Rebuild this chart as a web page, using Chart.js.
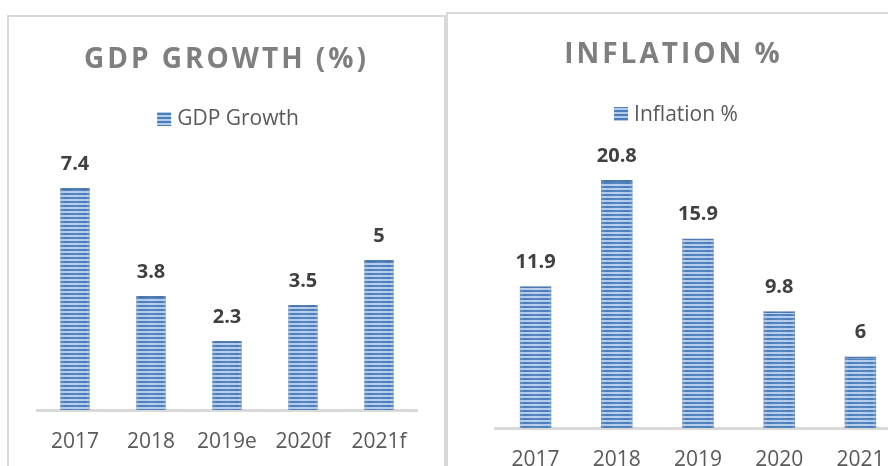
<!DOCTYPE html>
<html>
<head>
<meta charset="utf-8">
<title>GDP Growth and Inflation</title>
<script src="https://cdn.jsdelivr.net/npm/chart.js@4.4.0/dist/chart.umd.min.js"></script>
<style>
  html, body {
    margin: 0;
    padding: 0;
    width: 888px;
    height: 466px;
    overflow: hidden;
    background: #ffffff;
  }
  .panel {
    position: absolute;
    background: #ffffff;
    border-top: 2px solid #d9d9d9;
    border-left: 2px solid #d9d9d9;
  }
  #gdpPanel {
    left: 7px;
    top: 15px;
    border-right: 2px solid #d9d9d9;
  }
  #inflationPanel {
    left: 446px;
    top: 12px;
  }
  canvas { display: block; }
</style>
</head>
<body>
<div class="panel" id="gdpPanel"><canvas id="gdpChart" width="435" height="449"></canvas></div>
<div class="panel" id="inflationPanel"><canvas id="inflationChart" width="460" height="452"></canvas></div>

<script>
// chart data
const gdpYears = ["2017", "2018", "2019e", "2020f", "2021f"];
const gdpValues = [7.4, 3.8, 2.3, 3.5, 5];

const inflationYears = ["2017", "2018", "2019", "2020", "2021"];
const inflationValues = [11.9, 20.8, 15.9, 9.8, 6];

const FONT = "'Open Sans', 'DejaVu Sans', sans-serif";

// striped fill like the Excel pattern bars
function stripePattern() {
  const c = document.createElement("canvas");
  c.width = 4;
  c.height = 4;
  const g = c.getContext("2d");
  g.fillStyle = "#b3cbea";
  g.fillRect(0, 0, 4, 4);
  g.fillStyle = "#4a7dbc";
  g.fillRect(0, 0, 4, 2);
  return g.createPattern(c, "repeat");
}

// title (letter spaced) + single legend item
const headerPlugin = {
  id: "header",
  afterDraw(chart, args, opts) {
    const ctx = chart.ctx;
    ctx.save();

    // title
    ctx.font = "bold 28px " + FONT;
    ctx.letterSpacing = opts.spacing + "px";
    ctx.fillStyle = "#7f7f7f";
    ctx.textAlign = "left";
    ctx.textBaseline = "alphabetic";
    const tw = ctx.measureText(opts.title).width - opts.spacing;
    ctx.fillText(opts.title, opts.titleX - tw / 2, opts.titleY);

    // legend
    ctx.letterSpacing = "0px";
    ctx.font = "21px " + FONT;
    const label = chart.data.datasets[0].label;
    const lw = ctx.measureText(label).width;
    const box = 14;
    const total = box + 6 + lw;
    const lx = opts.legendX - total / 2;
    ctx.fillStyle = chart.data.datasets[0].backgroundColor;
    ctx.fillRect(lx, opts.boxTop, box, box);
    ctx.fillStyle = "#595959";
    ctx.fillText(label, lx + box + 6, opts.legendY);

    ctx.restore();
  },
};

// soft horizontal shading on each bar
const shadePlugin = {
  id: "shade",
  afterDatasetsDraw(chart) {
    const ctx = chart.ctx;
    chart.getDatasetMeta(0).data.forEach((bar) => {
      const { x, y, base, width } = bar.getProps(["x", "y", "base", "width"], true);
      const left = x - width / 2;
      const grad = ctx.createLinearGradient(left, 0, left + width, 0);
      grad.addColorStop(0, "rgba(140,150,165,0.4)");
      grad.addColorStop(0.12, "rgba(255,255,255,0)");
      grad.addColorStop(0.5, "rgba(255,255,255,0.08)");
      grad.addColorStop(0.88, "rgba(255,255,255,0)");
      grad.addColorStop(1, "rgba(140,150,165,0.4)");
      ctx.save();
      ctx.fillStyle = grad;
      ctx.fillRect(left, y, width, base - y);
      ctx.restore();
    });
  },
};

// value labels above bars
const valueLabelPlugin = {
  id: "valueLabels",
  afterDatasetsDraw(chart, args, opts) {
    const ctx = chart.ctx;
    const values = chart.data.datasets[0].data;
    ctx.save();
    ctx.font = "bold 20px " + FONT;
    ctx.fillStyle = "#404040";
    ctx.textAlign = "center";
    ctx.textBaseline = "alphabetic";
    chart.getDatasetMeta(0).data.forEach((bar, i) => {
      ctx.fillText(String(values[i]), bar.x, bar.y - opts.offset);
    });
    ctx.restore();
  },
};

function makeBarChart(canvasId, labels, values, seriesName, cfg) {
  return new Chart(document.getElementById(canvasId), {
    type: "bar",
    data: {
      labels: labels,
      datasets: [
        {
          label: seriesName,
          data: values,
          backgroundColor: stripePattern(),
          borderColor: "#4674ad",
          borderWidth: { top: 2, left: 0, right: 0, bottom: 0 },
          borderSkipped: "bottom",
          barPercentage: 0.39,
          categoryPercentage: 1,
        },
      ],
    },
    options: {
      responsive: false,
      devicePixelRatio: 1,
      animation: false,
      layout: { padding: cfg.padding },
      plugins: {
        legend: { display: false },
        title: { display: false },
        tooltip: { enabled: false },
        header: cfg.header,
        valueLabels: { offset: 18 },
      },
      scales: {
        x: {
          grid: { display: false, drawTicks: false },
          border: { display: true, color: "#d9d9d9", width: 3 },
          ticks: {
            color: "#595959",
            font: { family: FONT, size: 21 },
            padding: 19,
            maxRotation: 0,
            autoSkip: false,
          },
          afterFit: (scale) => {
            scale.height = cfg.axisHeight;
          },
        },
        y: {
          display: false,
          min: 0,
          max: cfg.max,
        },
      },
    },
    plugins: [shadePlugin, valueLabelPlugin, headerPlugin],
  });
}

makeBarChart("gdpChart", gdpYears, gdpValues, "GDP Growth", {
  padding: { top: 153, left: 28, right: 27, bottom: 0 },
  axisHeight: 56,
  max: 8,
  header: {
    title: "GDP GROWTH (%)",
    spacing: 3,
    titleX: 216,
    titleY: 51,
    legendX: 219,
    legendY: 108,
    boxTop: 95,
  },
});

makeBarChart("inflationChart", inflationYears, inflationValues, "Inflation %", {
  padding: { top: 116, left: 47, right: 7, bottom: 0 },
  axisHeight: 38,
  max: 25,
  header: {
    title: "INFLATION %",
    spacing: 3,
    titleX: 224,
    titleY: 49,
    legendX: 228,
    legendY: 107,
    boxTop: 93,
  },
});
</script>
</body>
</html>
